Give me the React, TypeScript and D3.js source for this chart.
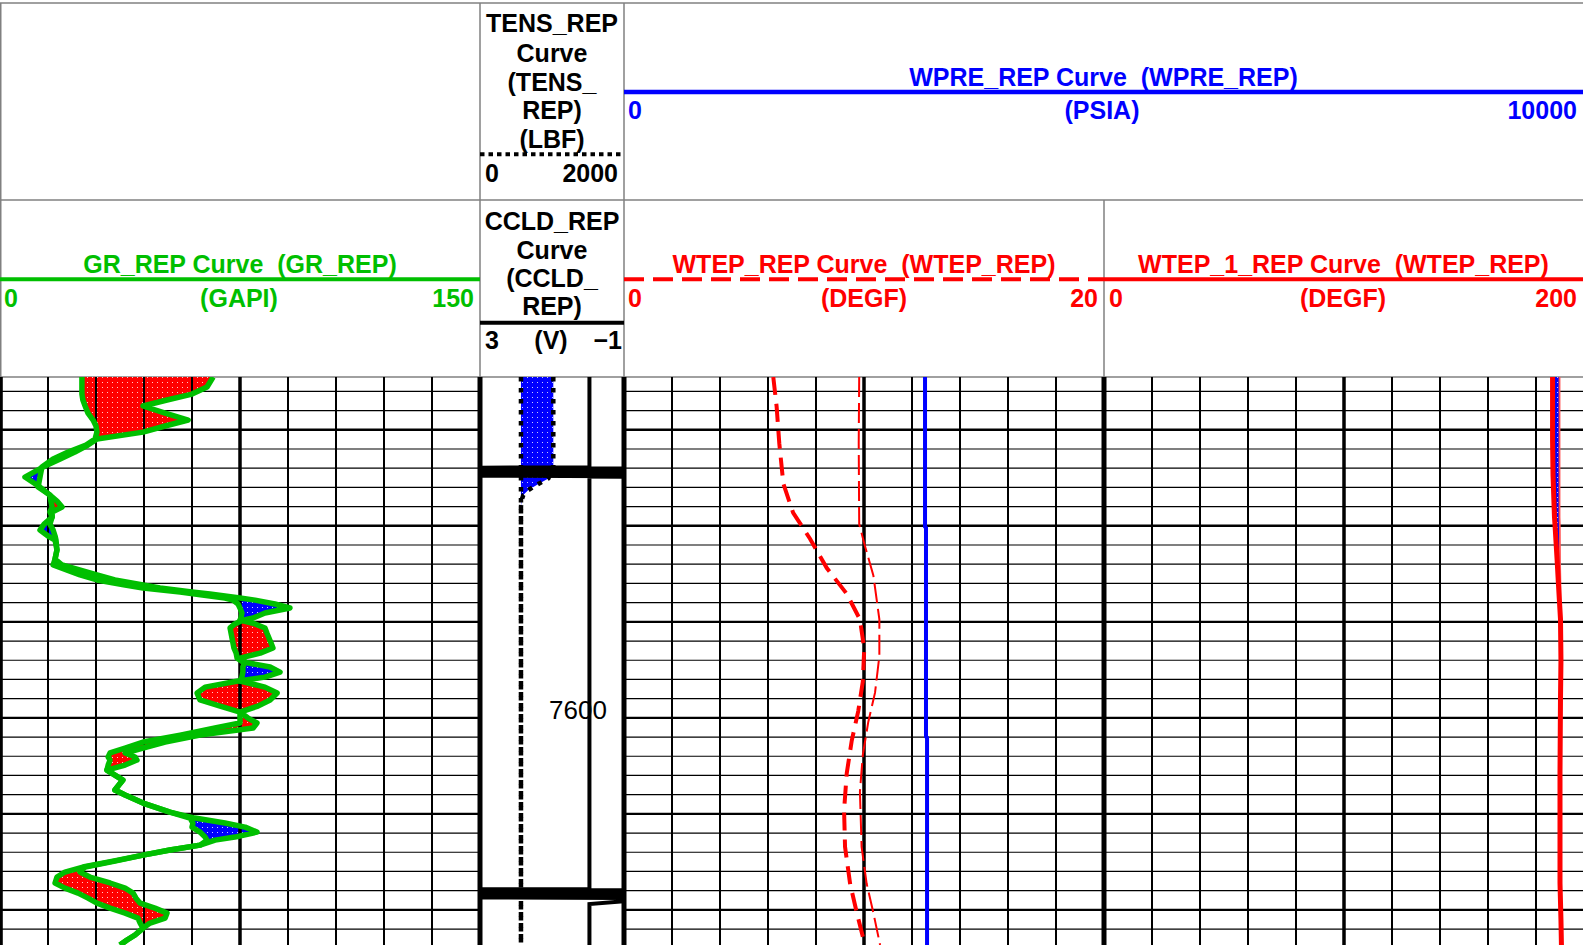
import React from "react";
import * as d3 from "d3";

const W = 1583;
const H = 945;
const GRID_TOP = 377;
const DEPTH_TOP = 7422.5;
const DEPTH_BOT = 7718.3;
const FONT = "'Liberation Sans', Arial, Helvetica, sans-serif";

// ---------- GR track (GAPI) ----------
const grDepth = [
  7422.5, 7427.7, 7431.4, 7434.5, 7437.6, 7441.3, 7444.9, 7448.0, 7451.2, 7454.8,
  7457.9, 7461.6, 7465.2, 7469.4, 7474.6, 7479.8, 7484.0, 7487.1, 7490.2, 7492.8,
  7495.4, 7499.1, 7502.2, 7505.3, 7507.4, 7512.6, 7517.3, 7520.4, 7525.6, 7528.2,
  7530.8, 7532.4, 7534.5, 7535.5, 7537.6, 7538.7, 7540.7, 7542.8, 7545.4, 7548.0,
  7549.1, 7551.1, 7553.2, 7555.8, 7561.0, 7563.6, 7566.3, 7568.9, 7570.9, 7573.5,
  7576.2, 7578.8, 7580.8, 7584.0, 7587.1, 7590.7, 7593.9, 7597.0, 7600.1, 7602.7,
  7605.3, 7609.0, 7612.6, 7615.7, 7618.3, 7620.4, 7622.0, 7624.6, 7627.2, 7632.4,
  7637.6, 7640.2, 7644.4, 7649.1, 7652.2, 7654.8, 7656.9, 7659.5, 7662.1, 7663.7,
  7666.3, 7668.8, 7671.5, 7674.6, 7677.7, 7680.3, 7682.9, 7686.0, 7688.7, 7691.3,
  7693.9, 7696.5, 7699.1, 7701.7, 7704.3, 7706.9, 7709.5, 7713.1, 7715.7, 7718.3,
];
const grRep = [
  66.6, 64.7, 60.0, 52.2, 44.7, 51.6, 58.8, 51.6, 44.7, 30.3,
  27.5, 23.4, 18.8, 13.4, 7.8, 12.5, 15.6, 17.8, 19.4, 16.3,
  16.3, 13.8, 12.5, 15.0, 17.2, 17.8, 17.2, 16.6, 25.0, 30.3,
  39.1, 44.7, 56.3, 60.9, 70.3, 72.8, 74.4, 75.0, 75.6, 75.3,
  75.0, 79.7, 82.8, 83.4, 84.7, 85.3, 81.3, 75.0, 76.6, 75.9,
  75.9, 75.6, 75.0, 82.8, 86.6, 84.4, 80.6, 75.0, 77.5, 80.3,
  79.1, 62.5, 51.6, 44.7, 39.1, 42.2, 42.8, 39.1, 33.4, 38.4,
  35.9, 39.1, 44.7, 53.1, 59.4, 60.3, 60.0, 62.5, 64.1, 64.7,
  62.5, 53.1, 44.7, 35.9, 26.6, 25.0, 28.1, 34.4, 39.1, 41.6,
  42.5, 43.8, 48.4, 52.2, 51.6, 46.9, 44.7, 42.2, 39.7, 37.5,
];
const grMain = [
  25.6, 25.6, 25.6, 25.9, 26.6, 27.5, 29.1, 30.0, 30.3, 29.7,
  26.9, 21.3, 16.6, 13.1, 12.5, 11.9, 15.6, 15.9, 16.3, 15.6,
  16.3, 15.6, 16.6, 17.2, 17.5, 17.8, 17.2, 19.4, 30.3, 35.9,
  44.7, 50.0, 60.0, 65.6, 75.0, 79.7, 85.9, 90.6, 82.8, 79.1,
  75.9, 73.4, 71.9, 72.2, 72.8, 73.1, 73.8, 74.1, 75.9, 84.4,
  87.5, 82.8, 74.4, 64.1, 61.6, 62.5, 68.8, 75.0, 75.0, 75.0,
  67.2, 56.3, 44.7, 39.1, 34.4, 33.8, 34.4, 33.8, 33.4, 38.4,
  35.9, 39.1, 44.7, 53.1, 60.9, 70.3, 76.6, 80.3, 73.4, 67.2,
  62.5, 53.1, 44.7, 35.3, 25.9, 20.3, 17.8, 17.2, 20.3, 24.4,
  27.5, 30.3, 34.4, 39.1, 43.1, 43.8, 44.7, 42.2, 39.7, 37.5,
];

// ---------- TENS track (LBF) ----------
const tensDepth = [7422.5, 7469.5, 7475.3, 7478.7, 7481.4, 7484.0, 7486.6, 7490.0, 7718.3];
const tensMain = [1018, 1018, 949, 788, 671, 601, 579, 569, 569];
const tensRep = [569, 569, 569, 569, 569, 569, 569, 569, 569];

// ---------- CCLD track (V) ----------
const ccldDepth = [
  7422.5, 7469.6, 7469.8, 7470.3, 7470.8, 7471.3, 7471.8, 7472.3, 7472.8, 7473.3, 7473.8, 7474.3, 7474.5,
  7689.2, 7689.4, 7689.9, 7690.4, 7690.9, 7691.4, 7691.9, 7692.4, 7692.9, 7693.4, 7693.9, 7695.2, 7697.0,
  7718.3,
];
const ccldRep = [
  -0.04, -0.04, 5, -3, 5, -3, 5, -3, 5, -3, 5, -3, -0.04,
  -0.04, 5, -3, 5, -3, 5, -3, 5, -3, 5, -3, -1.2, -0.04,
  -0.04,
];

// ---------- WPRE (PSIA) ----------
const wpreDepth = [7422.5, 7500.5, 7501.0, 7609.8, 7610.3, 7718.3];
const wpreRep = [3139, 3139, 3149, 3149, 3160, 3160];

// ---------- WTEP track (DEGF, 0-20) ----------
const wtepDepth = [
  7422.5, 7438.0, 7457.0, 7478.1, 7493.3, 7506.7, 7522.0, 7535.4, 7548.7, 7564.0,
  7581.2, 7596.5, 7611.8, 7629.0, 7648.1, 7667.2, 7686.3, 7701.5, 7718.3,
];
const wtepRep = [
  6.22, 6.36, 6.47, 6.64, 7.05, 7.75, 8.45, 9.28, 9.83, 10.01,
  9.95, 9.76, 9.49, 9.28, 9.17, 9.21, 9.42, 9.70, 10.04,
];
const wtepAltDepth = [
  7422.5, 7457.0, 7499.1, 7510.5, 7525.8, 7548.7, 7567.8, 7586.9, 7602.0, 7619.4,
  7638.5, 7667.2, 7686.3, 7701.5, 7718.3,
];
const wtepAlt = [
  9.80, 9.78, 9.80, 10.04, 10.39, 10.64, 10.64, 10.46, 10.18, 9.95,
  9.83, 9.90, 10.11, 10.39, 10.67,
];

// ---------- WTEP_1 track (DEGF, 0-200) ----------
const wtep1Depth = [
  7422.5, 7455.3, 7474.1, 7495.4, 7499.1, 7517.8, 7531.4, 7548.5, 7569.9, 7590.7,
  7628.8, 7686.0, 7705.3, 7718.3,
];
const wtep1Rep = [
  186.9, 186.9, 187.1, 187.7, 187.9, 188.8, 189.4, 190.2, 190.4, 190.2,
  190.0, 190.0, 190.4, 190.6,
];
const wtep1Alt = [
  189.8, 189.8, 189.8, 189.8, 189.9, 190.0, 190.2, 190.2, 190.4, 190.2,
  190.0, 190.0, 190.4, 190.6,
];

const depthLabels = [7600];

// ---------- scales ----------
const y = d3.scaleLinear().domain([DEPTH_TOP, DEPTH_BOT]).range([GRID_TOP, H]);
const xGR = d3.scaleLinear().domain([0, 150]).range([0, 480]);
const xTENS = d3.scaleLinear().domain([0, 2000]).range([480, 624]);
const xCCLD = d3.scaleLinear().domain([3, -1]).range([480, 624]);
const xWPRE = d3.scaleLinear().domain([0, 10000]).range([624, 1583]);
const xWTEP = d3.scaleLinear().domain([0, 20]).range([624, 1104]);
const xWTEP1 = d3.scaleLinear().domain([0, 200]).range([1104, 1584]);

const RED = "#ff0000";
const BLUE = "#0000ff";
const GREEN = "#00bf00";

function linePath(depths: number[], vals: number[], sx: (v: number) => number) {
  const idx = d3.range(depths.length);
  return d3.line<number>().x((i) => sx(vals[i])).y((i) => y(depths[i]))(idx) || "";
}

function areaPath(
  depths: number[],
  v0: (i: number) => number,
  v1: (i: number) => number,
  sx: (v: number) => number
) {
  const idx = d3.range(depths.length);
  return (
    d3
      .area<number>()
      .y((i) => y(depths[i]))
      .x0((i) => sx(v0(i)))
      .x1((i) => sx(v1(i)))(idx) || ""
  );
}

const tracks = [
  { x0: 0, x1: 480 },
  { x0: 624, x1: 1104 },
  { x0: 1104, x1: 1584 },
];

export default function App() {
  const gridDepths = d3.range(7430, 7711, 10);

  const grRed = areaPath(grDepth, (i) => grMain[i], (i) => Math.max(grRep[i], grMain[i]), xGR);
  const grBlue = areaPath(grDepth, (i) => grMain[i], (i) => Math.min(grRep[i], grMain[i]), xGR);
  const tensFill = areaPath(tensDepth, (i) => tensRep[i], (i) => tensMain[i], xTENS);
  const wtep1Fill = areaPath(wtep1Depth, (i) => wtep1Rep[i], (i) => wtep1Alt[i], xWTEP1);

  const hText = (
    x: number,
    yy: number,
    s: string,
    color: string,
    anchor: "start" | "middle" | "end" = "middle"
  ) => (
    <text
      key={s + x + "_" + yy}
      x={x}
      y={yy}
      fill={color}
      textAnchor={anchor}
      fontFamily={FONT}
      fontWeight="bold"
      fontSize={25}
      style={{ whiteSpace: "pre" }}
    >
      {s}
    </text>
  );

  const tensLines: [string, number][] = [
    ["TENS_REP", 32],
    ["Curve", 61.5],
    ["(TENS_", 90.5],
    ["REP)", 118.5],
    ["(LBF)", 147.5],
  ];
  const ccldLines: [string, number][] = [
    ["CCLD_REP", 230],
    ["Curve", 258.5],
    ["(CCLD_", 287],
    ["REP)", 315],
  ];

  const verticals: { x: number; w: number }[] = [];
  [0, 624, 1104].forEach((start) => {
    for (let k = 1; k < 10; k++) verticals.push({ x: start + 48 * k, w: k === 5 ? 3.5 : 2 });
  });

  return (
    <svg
      width={W}
      height={H}
      viewBox={`0 0 ${W} ${H}`}
      style={{ position: "absolute", left: 0, top: 0, background: "#fff" }}
    >
      <defs>
        <pattern id="redDots" width="5" height="5" patternUnits="userSpaceOnUse">
          <rect width="5" height="5" fill={RED} />
          <rect x="2" y="2" width="1" height="1" fill="#ffc8c8" />
        </pattern>
        <pattern id="blueDots" width="5" height="5" patternUnits="userSpaceOnUse">
          <rect width="5" height="5" fill={BLUE} />
          <rect x="2" y="2" width="1" height="1" fill="#c8c8ff" />
        </pattern>
        <clipPath id="clipGR">
          <rect x={0} y={GRID_TOP} width={480} height={H - GRID_TOP} />
        </clipPath>
        <clipPath id="clipCC">
          <rect x={480} y={GRID_TOP} width={144} height={H - GRID_TOP} />
        </clipPath>
        <clipPath id="clipWT">
          <rect x={624} y={GRID_TOP} width={480} height={H - GRID_TOP} />
        </clipPath>
        <clipPath id="clipWT1">
          <rect x={1104} y={GRID_TOP} width={480} height={H - GRID_TOP} />
        </clipPath>
        <clipPath id="clipRight">
          <rect x={624} y={GRID_TOP} width={960} height={H - GRID_TOP} />
        </clipPath>
      </defs>

      <rect x={0} y={0} width={W} height={H} fill="#fff" />

      {/* ---------- header frame ---------- */}
      <g stroke="#808080" strokeWidth={1.5}>
        <line x1={0} x2={W} y1={3} y2={3} />
        <line x1={0} x2={W} y1={200} y2={200} />
        <line x1={0} x2={W} y1={GRID_TOP} y2={GRID_TOP} />
        <line x1={0.75} x2={0.75} y1={3} y2={GRID_TOP} />
        <line x1={480} x2={480} y1={3} y2={GRID_TOP} />
        <line x1={624} x2={624} y1={3} y2={GRID_TOP} />
        <line x1={1104} x2={1104} y1={200} y2={GRID_TOP} />
      </g>

      {/* TENS header */}
      {tensLines.map(([s, yy]) => hText(552, yy, s, "#000"))}
      <line x1={480} x2={624} y1={154.3} y2={154.3} stroke="#000" strokeWidth={4} strokeDasharray="4.5 4" />
      {hText(485, 181.5, "0", "#000", "start")}
      {hText(618, 181.5, "2000", "#000", "end")}

      {/* WPRE header */}
      {hText(1103.5, 86, "WPRE_REP Curve  (WPRE_REP)", BLUE)}
      <line x1={624} x2={W} y1={92} y2={92} stroke={BLUE} strokeWidth={4.5} />
      {hText(628, 119, "0", BLUE, "start")}
      {hText(1102, 119, "(PSIA)", BLUE)}
      {hText(1577, 119, "10000", BLUE, "end")}

      {/* GR header */}
      {hText(240, 273, "GR_REP Curve  (GR_REP)", GREEN)}
      <line x1={0} x2={480} y1={279.3} y2={279.3} stroke={GREEN} strokeWidth={4} />
      {hText(4, 306.5, "0", GREEN, "start")}
      {hText(239, 306.5, "(GAPI)", GREEN)}
      {hText(474, 306.5, "150", GREEN, "end")}

      {/* CCLD header */}
      {ccldLines.map(([s, yy]) => hText(552, yy, s, "#000"))}
      <line x1={480} x2={624} y1={322.7} y2={322.7} stroke="#000" strokeWidth={4} />
      {hText(485, 348.5, "3", "#000", "start")}
      {hText(551, 348.5, "(V)", "#000")}
      {hText(622, 348.5, "\u22121", "#000", "end")}

      {/* WTEP header */}
      {hText(864, 273, "WTEP_REP Curve  (WTEP_REP)", RED)}
      <line x1={624} x2={1104} y1={279.3} y2={279.3} stroke={RED} strokeWidth={4} strokeDasharray="20 9" />
      {hText(628, 306.5, "0", RED, "start")}
      {hText(864, 306.5, "(DEGF)", RED)}
      {hText(1098, 306.5, "20", RED, "end")}

      {/* WTEP_1 header */}
      {hText(1343.5, 273, "WTEP_1_REP Curve  (WTEP_REP)", RED)}
      <line x1={1104} x2={W} y1={279.3} y2={279.3} stroke={RED} strokeWidth={4} />
      {hText(1109, 306.5, "0", RED, "start")}
      {hText(1343, 306.5, "(DEGF)", RED)}
      {hText(1577, 306.5, "200", RED, "end")}

      {/* ---------- horizontal grid ---------- */}
      <g stroke="#000">
        {tracks.map((t, ti) =>
          gridDepths.map((d) => (
            <line
              key={`h${ti}_${d}`}
              x1={t.x0}
              x2={Math.min(t.x1, W)}
              y1={y(d)}
              y2={y(d)}
              strokeWidth={d % 50 === 0 ? 2.4 : 1.2}
            />
          ))
        )}
      </g>

      {/* ---------- fills ---------- */}
      <g clipPath="url(#clipGR)">
        <path d={grRed} fill="url(#redDots)" />
        <path d={grBlue} fill="url(#blueDots)" />
      </g>
      <g clipPath="url(#clipCC)">
        <path d={tensFill} fill="url(#blueDots)" />
      </g>
      <g clipPath="url(#clipWT1)">
        <path d={wtep1Fill} fill="url(#blueDots)" />
      </g>

      {/* ---------- vertical grid ---------- */}
      <g stroke="#000">
        {verticals.map((v) => (
          <line key={`v${v.x}`} x1={v.x} x2={v.x} y1={GRID_TOP} y2={H} strokeWidth={v.w} />
        ))}
        <line x1={1.4} x2={1.4} y1={GRID_TOP} y2={H} strokeWidth={2.8} />
        <line x1={480} x2={480} y1={GRID_TOP} y2={H} strokeWidth={5} />
        <line x1={624} x2={624} y1={GRID_TOP} y2={H} strokeWidth={5} />
        <line x1={1104} x2={1104} y1={GRID_TOP} y2={H} strokeWidth={5} />
      </g>

      {/* ---------- curves ---------- */}
      <g clipPath="url(#clipGR)" fill="none" stroke={GREEN} strokeWidth={5.5} strokeLinejoin="round">
        <path d={linePath(grDepth, grMain, xGR)} />
        <path d={linePath(grDepth, grRep, xGR)} />
      </g>

      <g clipPath="url(#clipCC)" fill="none">
        <path d={linePath(ccldDepth, ccldRep, xCCLD)} stroke="#000" strokeWidth={4} />
        <path d={linePath(tensDepth, tensMain, xTENS)} stroke="#000" strokeWidth={4.5} strokeDasharray="4.5 6.5" />
        <path d={linePath(tensDepth, tensRep, xTENS)} stroke="#000" strokeWidth={4.5} strokeDasharray="4.5 6.5" />
      </g>
      {depthLabels.map((d) => (
        <text
          key={`dl${d}`}
          x={578}
          y={y(d) + 1}
          textAnchor="middle"
          fontFamily={FONT}
          fontSize={26}
          fill="#000"
        >
          {d}
        </text>
      ))}

      <g clipPath="url(#clipWT)" fill="none" stroke={RED}>
        <path d={linePath(wtepAltDepth, wtepAlt, xWTEP)} strokeWidth={2} strokeDasharray="20 6" />
        <path d={linePath(wtepDepth, wtepRep, xWTEP)} strokeWidth={4} strokeDasharray="18 9" />
      </g>

      <g clipPath="url(#clipWT1)" fill="none" stroke={RED}>
        <path d={linePath(wtep1Depth, wtep1Alt, xWTEP1)} strokeWidth={1.8} stroke="#ff5050" />
        <path d={linePath(wtep1Depth, wtep1Rep, xWTEP1)} strokeWidth={5} />
      </g>

      <g clipPath="url(#clipRight)" fill="none">
        <path d={linePath(wpreDepth, wpreRep, xWPRE)} stroke={BLUE} strokeWidth={4} />
      </g>
    </svg>
  );
}
